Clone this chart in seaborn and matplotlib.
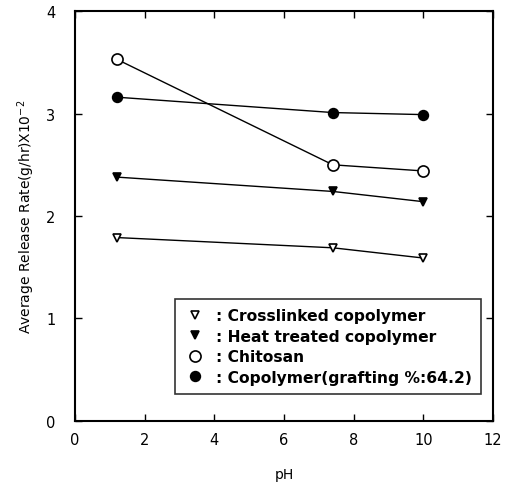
import pandas as pd
import matplotlib
matplotlib.use("Agg")
import matplotlib.pyplot as plt
from matplotlib.lines import Line2D
import seaborn as sns

ph = [1.2, 7.4, 10.0]
crosslinked = [1.79, 1.69, 1.59]
heat_treated = [2.38, 2.24, 2.14]
chitosan = [3.53, 2.50, 2.44]
copolymer = [3.16, 3.01, 2.99]

labels = [": Crosslinked copolymer", ": Heat treated copolymer",
          ": Chitosan", ": Copolymer(grafting %:64.2)"]
series = [crosslinked, heat_treated, chitosan, copolymer]
markers = ["v", "v", "o", "o"]
fills = ["white", "black", "white", "black"]
sizes = [6, 6, 8, 7]

sns.set_style("ticks", {"text.color": "black", "axes.labelcolor": "black",
                        "xtick.color": "black", "ytick.color": "black",
                        "axes.edgecolor": "black"})
plt.rcParams['font.family'] = ['DejaVu Sans']

fig = plt.figure(figsize=(5.1, 4.85), dpi=100)
ax = fig.add_axes([0.147, 0.130, 0.820, 0.845])

handles = []
for vals, lab, m, fc, ms in zip(series, labels, markers, fills, sizes):
    df = pd.DataFrame({"pH": ph, "rate": vals})
    sns.lineplot(data=df, x="pH", y="rate", ax=ax, color="black", lw=1,
                 marker=m, markersize=ms, markerfacecolor=fc,
                 markeredgecolor="black", markeredgewidth=1.2)
    handles.append(Line2D([], [], linestyle="none", marker=m, markersize=ms,
                          markerfacecolor=fc, markeredgecolor="black",
                          markeredgewidth=1.2, label=lab))

ax.set_xlim(0, 12)
ax.set_ylim(0, 4)
ax.set_xticks(range(0, 13, 2))
ax.set_yticks(range(0, 5))
ax.tick_params(axis="x", direction="in", top=True, length=5, width=1,
               labelsize=10.5, pad=8)
ax.tick_params(axis="y", direction="in", right=True, length=5, width=1,
               labelsize=10.5, pad=14)
for sp in ax.spines.values():
    sp.set_linewidth(1.5)

ax.set_xlabel("pH", fontsize=10, labelpad=14)
ax.set_ylabel(r"Average Release Rate(g/hr)X10$^{-2}$", fontsize=10)
ax.yaxis.set_label_coords(-0.09, 0.5)

leg = ax.legend(handles=handles, loc="lower right", bbox_to_anchor=(0.971, 0.066),
                borderaxespad=0, prop={"size": 11.2, "weight": "bold"},
                handlelength=1.4, handletextpad=0.6, frameon=True,
                fancybox=False, edgecolor="black", borderpad=0.6,
                labelspacing=0.35)
leg.get_frame().set_linewidth(1.2)

fig.savefig("out.png", dpi=100)
